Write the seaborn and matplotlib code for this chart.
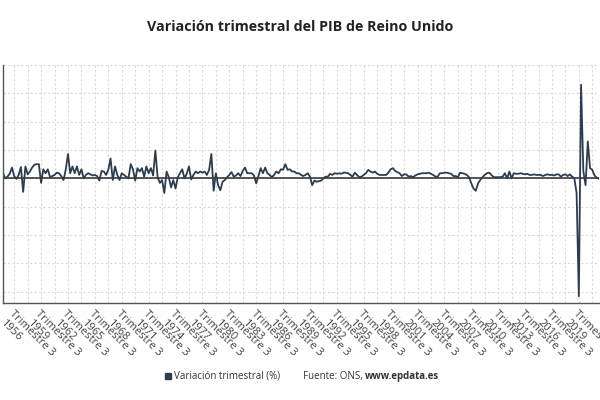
import matplotlib
matplotlib.use("Agg")
import matplotlib.pyplot as plt
from matplotlib.patches import Rectangle
from matplotlib.ticker import FixedLocator
import pandas as pd
import seaborn as sns

# Variación trimestral del PIB (%), desde "Trimestre 2 1955"
variacion = [
    0.9, 0.0, 0.3, 0.8, 1.9, 0.4, -0.1, 0.6, 2.0, -2.4, 2.1, 0.7,
    1.2, 1.9, 2.4, 2.5, 2.5, -0.8, 1.6, 0.9, 1.6, 0.2, 0.4, 0.6,
    1.0, 0.9, 0.4, -0.3, 1.5, 4.3, 0.9, 2.1, 0.9, 2.1, 0.6, 1.6,
    0.0, 0.6, 0.9, 0.7, 0.5, 0.6, 0.4, -0.4, 1.3, 1.2, 0.6, 1.5,
    3.5, -0.3, 2.1, 0.6, -0.3, 0.9, 0.6, 0.3, 0.0, 2.5, 1.6, -0.4,
    1.8, 1.2, 1.8, 0.3, 2.1, 0.9, 1.8, 0.5, 4.9, 0.2, -0.8, -0.3,
    -2.6, 1.2, 0.2, -1.6, -0.3, -1.8, 0.2, 0.9, 1.6, 0.0, 0.8, 2.1,
    -0.2, 0.6, 1.2, 0.9, 1.2, 1.0, 1.2, 0.6, 1.5, 4.3, -2.2, 0.9,
    -1.2, -2.1, -0.6, -0.3, 0.2, 0.6, 1.1, 0.3, 0.5, 0.9, 0.4, 1.3,
    1.9, 0.9, 0.9, 0.9, 0.5, -0.9, 0.4, 1.8, 0.9, 1.9, 0.9, 0.6,
    0.2, 0.6, 1.2, 0.9, 1.6, 1.5, 2.5, 1.5, 1.6, 1.2, 1.2, 0.9,
    0.9, 0.6, 0.4, 0.6, 0.9, 0.3, -1.2, -0.4, -0.6, -0.5, -0.4, 0.0,
    0.3, 0.3, 0.8, 0.6, 0.9, 0.8, 0.9, 0.8, 1.0, 1.0, 0.9, 0.6,
    0.3, 1.0, 0.6, 0.2, 0.3, 0.6, 0.9, 1.5, 1.2, 1.0, 1.2, 0.8,
    0.6, 0.6, 0.6, 0.6, 1.0, 1.6, 1.8, 1.3, 1.1, 0.9, 0.4, 0.7,
    0.7, 0.3, 0.4, 0.2, 0.5, 0.7, 0.8, 0.9, 0.9, 0.9, 1.0, 0.8,
    0.6, 0.3, 0.3, 0.9, 0.9, 1.0, 1.0, 0.9, 0.8, 0.4, 0.4, 0.2,
    1.0, 0.9, 0.8, 0.6, 0.2, -0.9, -1.8, -2.2, -0.9, -0.3, 0.2, 0.6,
    0.9, 1.0, 0.6, 0.2, 0.2, 0.2, 0.2, 0.3, 0.9, 0.0, 1.2, 0.0,
    0.9, 0.8, 0.8, 0.9, 0.8, 0.7, 0.8, 0.6, 0.6, 0.7, 0.6, 0.6,
    0.6, 0.4, 0.6, 0.7, 0.6, 0.6, 0.5, 0.7, 0.7, 0.3, 0.6, 0.7,
    0.4, 0.7, 0.3, 0.0, -2.6, -20.8, 16.5, 1.3, -1.2, 6.5, 1.8, 1.5,
    0.5, 0.1, -0.1,
]

# Etiquetas de los trimestres
periodos = []
anio, trim = 1955, 2
for _ in variacion:
    periodos.append(f"Trimestre {trim}\n{anio}")
    trim += 1
    if trim > 4:
        trim = 1
        anio += 1

df = pd.DataFrame({"pos": range(len(variacion)), "periodo": periodos, "valor": variacion})

sns.set_style("white")
plt.rcParams["font.family"] = ["Open Sans", "DejaVu Sans"]

fig = plt.figure(figsize=(6, 4), dpi=100)
ax = fig.add_axes([3 / 600, 1 - 303 / 400, 596 / 600, 238 / 400])

sns.lineplot(data=df, x="pos", y="valor", ax=ax, color="#2c3d4f", linewidth=1.3)
ax.axhline(0, color="#3a3a3a", linewidth=1.2, zorder=1)

ax.set_xlim(0, len(variacion) - 1)
ax.set_ylim(-22, 20)

# ticks
major = list(range(5, len(variacion), 12))
minor = list(range(11, len(variacion), 12))
ax.set_xticks(major)
ax.set_xticklabels([periodos[i] for i in major], rotation=-45, ha="left", va="top",
                   rotation_mode="anchor", fontsize=8, color="#444444", linespacing=1.15)
ax.xaxis.set_minor_locator(FixedLocator(minor))
ax.set_yticks(range(-20, 21, 5))
ax.set_yticklabels([])
ax.tick_params(axis="x", which="both", length=3, width=0.8, color="#555555", pad=1)
ax.tick_params(axis="y", length=3, width=0.8, color="#555555")

ax.grid(True, which="both", axis="x", color="#dadada", linestyle=(0, (2, 2)), linewidth=0.8)
ax.grid(True, which="major", axis="y", color="#dadada", linestyle=(0, (2, 2)), linewidth=0.8)

for s in ["top", "right"]:
    ax.spines[s].set_visible(False)
for s in ["left", "bottom"]:
    ax.spines[s].set_color("#555555")
    ax.spines[s].set_linewidth(1.0)

ax.set_xlabel("")
ax.set_ylabel("")

fig.suptitle("Variación trimestral del PIB de Reino Unido", x=0.5, y=1 - 27 / 400,
             va="center", fontsize=10.3, fontweight="bold", color="#222222")

# leyenda y fuente
fig.patches.append(Rectangle((165 / 600, 1 - 379 / 400), 6 / 600, 6 / 400,
                             transform=fig.transFigure, color="#2c3d4f"))
fig.text(174 / 600, 1 - 376 / 400, "Variación trimestral (%)", va="center",
         fontsize=7, color="#333333")
fuente = fig.text(303 / 600, 1 - 376 / 400, "Fuente: ONS, ", va="center",
                  fontsize=7, color="#333333")
fig.canvas.draw()
bb = fuente.get_window_extent().transformed(fig.transFigure.inverted())
fig.text(bb.x1, 1 - 376 / 400, "www.epdata.es", va="center", fontsize=7,
         fontweight="bold", color="#333333")

fig.savefig("out.png", dpi=100)
